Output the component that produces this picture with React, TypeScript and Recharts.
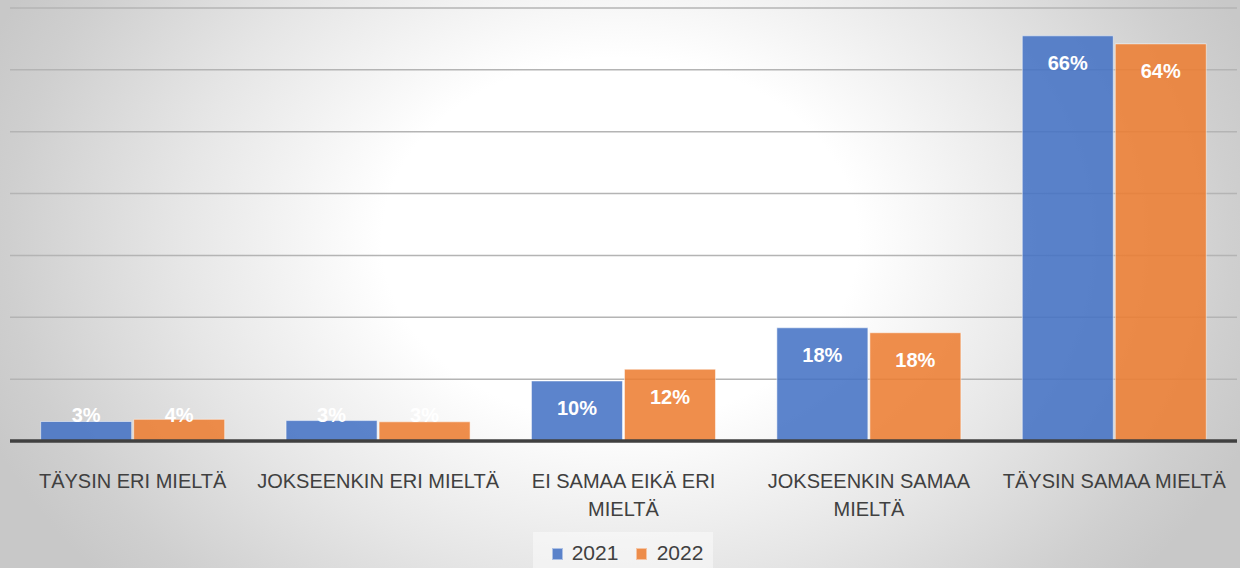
import React from 'react';
import { BarChart, Bar, XAxis, YAxis, CartesianGrid, LabelList, Legend } from 'recharts';

const categories = [
  'TÄYSIN ERI MIELTÄ',
  'JOKSEENKIN ERI MIELTÄ',
  'EI SAMAA EIKÄ ERI MIELTÄ',
  'JOKSEENKIN SAMAA MIELTÄ',
  'TÄYSIN SAMAA MIELTÄ',
];
const tickLines = [
  ['TÄYSIN ERI MIELTÄ'],
  ['JOKSEENKIN ERI MIELTÄ'],
  ['EI SAMAA EIKÄ ERI', 'MIELTÄ'],
  ['JOKSEENKIN SAMAA', 'MIELTÄ'],
  ['TÄYSIN SAMAA MIELTÄ'],
];
const values2021 = [3.15, 3.3, 9.7, 18.3, 65.5];
const values2022 = [3.5, 3.1, 11.6, 17.5, 64.2];
const yTicks = [0, 10, 20, 30, 40, 50, 60, 70];
const seriesNames = ['2021', '2022'];

const data = categories.map((c, i) => ({ name: c, y2021: values2021[i], y2022: values2022[i] }));

const FONT = '"Liberation Sans", Arial, sans-serif';
const BLUE = '#4472C4';
const ORANGE = '#ED7D31';

const Tick = (props: any) => {
  const { x, y, payload } = props;
  const lines = tickLines[payload.index] || [String(payload.value)];
  return (
    <text x={x} y={y + 39} textAnchor="middle" fill="#404040" fontFamily={FONT} fontSize={20}>
      {lines.map((l: string, i: number) => (
        <tspan key={i} x={x} dy={i === 0 ? 0 : 28}>{l}</tspan>
      ))}
    </text>
  );
};

const BarLabel = (props: any) => {
  const { x, y, width, height, value } = props;
  const top = Number(y);
  const h = Number(height);
  const bottom = top + h;
  const cy = Math.min(top + 27.5, bottom - 26.5);
  return (
    <text
      x={Number(x) + Number(width) / 2}
      y={cy}
      textAnchor="middle"
      dominantBaseline="central"
      fill="#ffffff"
      fontFamily={FONT}
      fontWeight="bold"
      fontSize={20}
    >
      {Math.round(Number(value)) + '%'}
    </text>
  );
};

const LegendContent = () => {
  const items = [
    { label: seriesNames[0], color: BLUE, sq: 18.7, tx: 38.7 },
    { label: seriesNames[1], color: ORANGE, sq: 103, tx: 123.7 },
  ];
  return (
    <div
      style={{
        position: 'relative',
        width: 180,
        height: 36,
        background: 'rgba(255,255,255,0.45)',
        fontFamily: FONT,
      }}
    >
      {items.map((it) => (
        <React.Fragment key={it.label}>
          <div
            style={{
              position: 'absolute',
              left: it.sq,
              top: 15.5,
              width: 11,
              height: 12,
              background: it.color,
              opacity: 0.87,
              boxSizing: 'border-box',
              border: '1px solid rgba(255,255,255,0.5)',
            }}
          />
          <div
            style={{
              position: 'absolute',
              left: it.tx,
              top: 9,
              fontSize: 21,
              lineHeight: '24px',
              color: '#404040',
            }}
          >
            {it.label}
          </div>
        </React.Fragment>
      ))}
    </div>
  );
};

export default function App() {
  return (
    <div
      style={{
        position: 'absolute',
        left: 0,
        top: 0,
        width: 1240,
        height: 568,
        overflow: 'hidden',
        background:
          'radial-gradient(ellipse 680px 520px at 620px 240px, #ffffff 0%, #ffffff 35%, #e6e6e6 65%, #cfcfcf 90%, #c8c8c8 100%)',
      }}
    >
      <BarChart
        width={1240}
        height={568}
        data={data}
        margin={{ top: 8, right: 3, bottom: 0, left: 10 }}
        barCategoryGap="12.5%"
        barGap={2}
      >
        <CartesianGrid vertical={false} stroke="#b4b4b4" strokeWidth={1.5} />
        <YAxis hide domain={[0, 70]} ticks={yTicks} />
        <XAxis
          dataKey="name"
          height={91}
          interval={0}
          tickLine={false}
          axisLine={{ stroke: '#404040', strokeWidth: 3.5 }}
          tick={<Tick />}
        />
        <Legend
          verticalAlign="bottom"
          align="center"
          height={36}
          content={<LegendContent />}
          wrapperStyle={{ left: 533, bottom: 0, width: 180, height: 36 }}
        />
        <Bar
          dataKey="y2021"
          name={seriesNames[0]}
          fill={BLUE}
          fillOpacity={0.87}
          stroke="rgba(255,255,255,0.5)"
          strokeWidth={1}
          isAnimationActive={false}
        >
          <LabelList dataKey="y2021" content={<BarLabel />} />
        </Bar>
        <Bar
          dataKey="y2022"
          name={seriesNames[1]}
          fill={ORANGE}
          fillOpacity={0.87}
          stroke="rgba(255,255,255,0.5)"
          strokeWidth={1}
          isAnimationActive={false}
        >
          <LabelList dataKey="y2022" content={<BarLabel />} />
        </Bar>
      </BarChart>
    </div>
  );
}
